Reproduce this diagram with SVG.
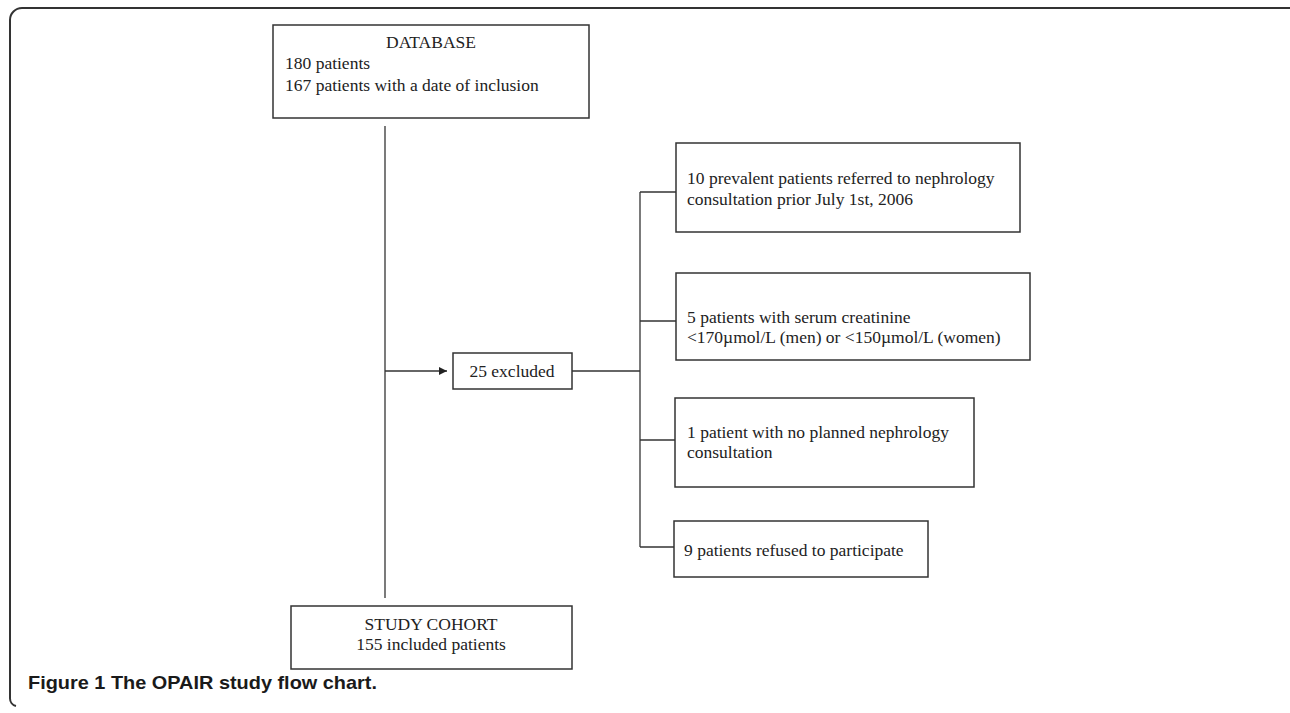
<svg xmlns="http://www.w3.org/2000/svg" width="1290" height="713" viewBox="0 0 1290 713">
<style>
.box{fill:#fff;stroke:#333;stroke-width:1.5}
.t{font-family:"Liberation Serif","Times New Roman",serif;font-size:17.5px;fill:#222}
.c{text-anchor:middle}
.ln{stroke:#333;stroke-width:1.3;fill:none}
.cap{font-family:"Liberation Sans",Arial,sans-serif;font-weight:bold;font-size:19px;fill:#1a1a1a}
</style>
<defs>
<marker id="ah" viewBox="0 0 10 10" refX="10" refY="5" markerWidth="9" markerHeight="8" markerUnits="userSpaceOnUse" orient="auto">
<path d="M0,0 L10,5 L0,10 z" fill="#222"/>
</marker>
</defs>
<rect width="1290" height="713" fill="#fff"/>
<path d="M1290,8 H22 A12,12 0 0 0 10,20 V698 A8,8 0 0 0 16,706" fill="none" stroke="#333" stroke-width="2"/>
<g id="connectors">
<line class="ln" x1="385" y1="126" x2="385" y2="598"/>
<line class="ln" x1="385" y1="371" x2="447" y2="371" marker-end="url(#ah)"/>
<line class="ln" x1="572" y1="371" x2="640" y2="371"/>
<line class="ln" x1="640" y1="192" x2="640" y2="547"/>
<line class="ln" x1="640" y1="192" x2="676" y2="192"/>
<line class="ln" x1="640" y1="321" x2="676" y2="321"/>
<line class="ln" x1="640" y1="440" x2="675" y2="440"/>
<line class="ln" x1="640" y1="547" x2="674" y2="547"/>
</g>
<g id="database">
<rect class="box" x="273" y="25" width="316" height="93"/>
<text class="t c" x="431" y="48">DATABASE</text>
<text class="t" x="285" y="69">180 patients</text>
<text class="t" x="285" y="91">167 patients with a date of inclusion</text>
</g>
<g id="excluded">
<rect class="box" x="453" y="353" width="119" height="36"/>
<text class="t c" x="512" y="377">25 excluded</text>
</g>
<g id="prevalent">
<rect class="box" x="676" y="143" width="344" height="89"/>
<text class="t" x="687" y="184">10 prevalent patients referred to nephrology</text>
<text class="t" x="687" y="205">consultation prior July 1st, 2006</text>
</g>
<g id="creatinine">
<rect class="box" x="676" y="273" width="354" height="87"/>
<text class="t" x="687" y="323">5 patients with serum creatinine</text>
<text class="t" x="687" y="343">&lt;170µmol/L (men) or &lt;150µmol/L (women)</text>
</g>
<g id="noconsult">
<rect class="box" x="675" y="398" width="299" height="89"/>
<text class="t" x="687" y="438">1 patient with no planned nephrology</text>
<text class="t" x="687" y="458">consultation</text>
</g>
<g id="refused">
<rect class="box" x="674" y="521" width="254" height="56"/>
<text class="t" x="684" y="556">9 patients refused to participate</text>
</g>
<g id="cohort">
<rect class="box" x="291" y="606" width="281" height="63"/>
<text class="t c" x="431" y="630">STUDY COHORT</text>
<text class="t c" x="431" y="650">155 included patients</text>
</g>
<text class="cap" x="28" y="689" textLength="349" lengthAdjust="spacingAndGlyphs">Figure 1 The OPAIR study flow chart.</text>
</svg>
